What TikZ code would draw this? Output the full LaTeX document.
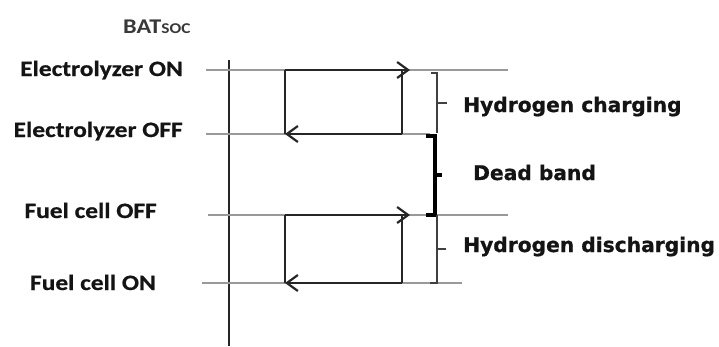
\documentclass[tikz,border=0pt]{standalone}
\usepackage{fontspec}
\newfontfamily\labfont[FakeStretch=1.16,FakeBold=0.6]{Carlito}
\newfontfamily\batfont[FakeStretch=1.16]{Carlito}
\newfontfamily\hfont[FakeBold=0.8]{DejaVu Sans}
\usetikzlibrary{arrows.meta}
\begin{document}
\begin{tikzpicture}[x=1bp,y=-1bp,
  axisline/.style={draw=black!85, line width=2.2bp},
  level/.style={draw=gray!80, line width=1.3bp},
  loopline/.style={draw=black!85, line width=2.4bp},
  arr/.style={loopline, -{Straight Barb[length=11bp,width=16bp,line width=2.2bp]}},
  thinbrace/.style={draw=black!75, line width=1.8bp},
  thickbrace/.style={draw=black, line width=3.8bp},
  leftlab/.style={anchor=base east, inner sep=0, font=\labfont\bfseries\fontsize{22}{24}\selectfont, text=black!92},
  rightlab/.style={anchor=base west, inner sep=0, font=\hfont\bfseries\fontsize{20.3}{22}\selectfont, text=black!92},
]
\useasboundingbox (0,0) rectangle (719,346);

% axis
\coordinate (axT) at (229,60);
\coordinate (axB) at (229,346);
\draw[axisline] (axT) -- (axB);

% levels
\coordinate (l1a) at (206,70);  \coordinate (l1b) at (508,70);
\coordinate (l2a) at (206,134); \coordinate (l2b) at (430,134);
\coordinate (l3a) at (208,215); \coordinate (l3b) at (508,215);
\coordinate (l4a) at (202,283); \coordinate (l4b) at (462,283);
\draw[level] (l1a) -- (l1b);
\draw[level] (l2a) -- (l2b);
\draw[level] (l3a) -- (l3b);
\draw[level] (l4a) -- (l4b);

% upper loop
\coordinate (uTL) at (285,70);  \coordinate (uTR) at (402,70);
\coordinate (uTip) at (410,70);
\coordinate (uBL) at (285,134); \coordinate (uBR) at (402,134);
\draw[loopline] (uTL) -- (uBL);
\draw[loopline] (uTR) -- (uBR);
\draw[arr] (uTL) -- (uTip);
\draw[arr] (uBR) -- (uBL);

% lower loop
\coordinate (dTL) at (285,215); \coordinate (dTR) at (402,215);
\coordinate (dTip) at (410,215);
\coordinate (dBL) at (285,283); \coordinate (dBR) at (402,283);
\draw[loopline] (dTL) -- (dBL);
\draw[loopline] (dTR) -- (dBR);
\draw[arr] (dTL) -- (dTip);
\draw[arr] (dBR) -- (dBL);

% brackets
\coordinate (b1a) at (431,73); \coordinate (b1b) at (437,73); \coordinate (b1c) at (437,133);
\coordinate (b1m) at (437,103); \coordinate (b1t) at (447,103);
\draw[thinbrace] (b1a) -- (b1b) -- (b1c);
\draw[thinbrace] (b1m) -- (b1t);

\coordinate (b2a) at (426,136); \coordinate (b2b) at (435,136);
\coordinate (b2c) at (435,215); \coordinate (b2d) at (426,215);
\coordinate (b2m) at (435,175); \coordinate (b2t) at (442,175);
\draw[thickbrace] (b2a) -- (b2b) -- (b2c) -- (b2d);
\draw[thickbrace] (b2m) -- (b2t);

\coordinate (b3a) at (437,215); \coordinate (b3b) at (437,283); \coordinate (b3c) at (430,283);
\coordinate (b3m) at (437,249); \coordinate (b3t) at (446,249);
\draw[thinbrace] (b3a) -- (b3b) -- (b3c);
\draw[thinbrace] (b3m) -- (b3t);

% labels
\node[anchor=base west, inner sep=0, text=black!78] (bat) at (123,33)
  {\batfont\bfseries\fontsize{21}{22}\selectfont BAT\fontsize{15}{16}\selectfont SOC};
\node[leftlab] (eon)  at (183,76)  {Electrolyzer ON};
\node[leftlab] (eoff) at (183,137) {Electrolyzer OFF};
\node[leftlab] (foff) at (157,218) {Fuel cell OFF};
\node[leftlab] (fon)  at (156,290) {Fuel cell ON};

\node[rightlab] (hc) at (463,112) {Hydrogen charging};
\node[rightlab] (db) at (473,180) {Dead band};
\node[rightlab] (hd) at (463,252) {Hydrogen discharging};
\end{tikzpicture}
\end{document}
